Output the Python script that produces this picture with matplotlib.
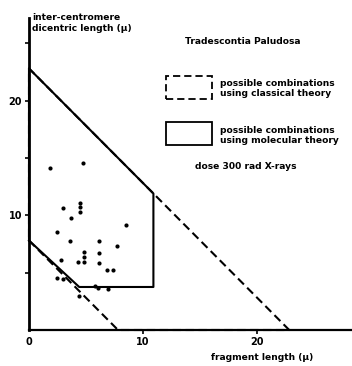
import matplotlib
matplotlib.use("Agg")
import matplotlib.pyplot as plt
from matplotlib.patches import Rectangle
from matplotlib.lines import Line2D

plt.rcParams['font.family'] = ['DejaVu Sans']

# Observed aberrations: fragment length vs inter-centromere dicentric length (microns)
fragment_len = [1.8, 4.76, 2.96, 4.47, 4.47, 4.47, 3.64, 2.43, 3.6, 6.14,
                4.82, 6.14, 4.82, 4.32, 4.82, 2.8, 6.14, 6.8, 7.32, 7.72,
                8.5, 2.46, 2.94, 5.79, 6.03, 6.93, 4.34]
dicentric_len = [14.1, 14.6, 10.6, 11.07, 10.74, 10.33, 9.8, 8.53, 7.8, 7.77,
                 6.8, 6.72, 6.38, 5.9, 5.94, 6.07, 5.85, 5.24, 5.24, 7.3,
                 9.13, 4.5, 4.45, 3.84, 3.64, 3.55, 3.0]

# Region outlines (x = fragment length, y = dicentric length)
classical_x = [0, 7.8, 22.8, 0, 0]
classical_y = [7.8, 0, 0, 22.8, 7.8]
molecular_x = [0, 4.4, 10.9, 10.9, 0, 0]
molecular_y = [7.8, 3.75, 3.75, 11.9, 22.8, 7.8]

x_ticks = [10, 20]
x_ticklabels = ["0", "10", "20"]
y_ticks = [5, 10, 15, 20, 25]
y_ticklabels = ["", "10", "", "20", ""]

W, H = 352, 366
fig = plt.figure(figsize=(W / 100, H / 100), dpi=100)


def fx(px):
    return px / W


def fy(py):
    return 1 - py / H


ax = fig.add_axes([fx(29), fy(330), fx(352) - fx(29), fy(18) - fy(330)])
ax.set_xlim(0, 28.3)
ax.set_ylim(0, 27.2)
for s in ("top", "right"):
    ax.spines[s].set_visible(False)
ax.spines["left"].set_linewidth(2.0)
ax.spines["bottom"].set_linewidth(1.6)

ax.set_xticks([0] + x_ticks)
ax.set_xticklabels(x_ticklabels, fontsize=7, fontweight='bold')
ax.set_yticks(y_ticks)
ax.set_yticklabels(y_ticklabels, fontsize=7, fontweight='bold')
ax.tick_params(axis='both', direction='out', length=3, width=1.2, pad=2)
ax.xaxis.get_major_ticks()[0].tick1line.set_visible(False)

lw = 1.5
ax.plot(classical_x, classical_y, color='black', lw=lw, dashes=(4, 2.2),
        solid_capstyle='butt', clip_on=False)
ax.plot(molecular_x, molecular_y, color='black', lw=lw, clip_on=False)
ax.plot(fragment_len, dicentric_len, 'o', color='black', ms=3.0, mec='none')

tkw = dict(fontsize=6.6, fontweight='bold', color='black')
fig.text(fx(32), fy(23), "inter-centromere\ndicentric length (\u00b5)",
         ha='left', va='center', linespacing=1.25, **tkw)
fig.text(fx(243), fy(41), "Tradescontia Paludosa", ha='center', va='center', **tkw)

# Legend keys
fig.patches.append(Rectangle((fx(166), fy(99)), fx(212) - fx(166), fy(76) - fy(99),
                             transform=fig.transFigure, fill=False, lw=1.3,
                             ls=(0, (4, 2.2)), color='black'))
fig.patches.append(Rectangle((fx(166), fy(145)), fx(212) - fx(166), fy(122) - fy(145),
                             transform=fig.transFigure, fill=False, lw=1.3,
                             color='black'))
fig.text(fx(220), fy(88.5), "possible combinations\nusing classical theory",
         ha='left', va='center', linespacing=1.2, **tkw)
fig.text(fx(220), fy(135.5), "possible combinations\nusing molecular theory",
         ha='left', va='center', linespacing=1.2, **tkw)
fig.text(fx(246), fy(166), "dose 300 rad X-rays", ha='center', va='center', **tkw)

fig.text(fx(262), fy(358), "fragment length (\u00b5)", ha='center', va='center', **tkw)

fig.savefig("out.png", dpi=100)
